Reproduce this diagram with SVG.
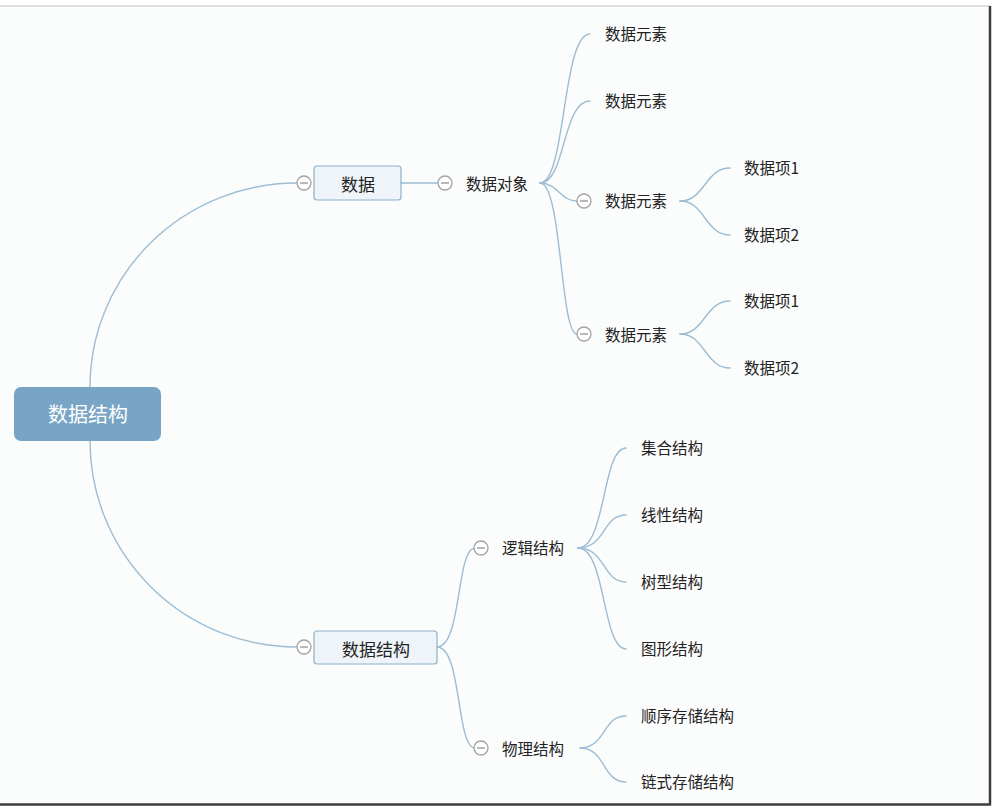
<svg xmlns="http://www.w3.org/2000/svg" width="995" height="809" viewBox="0 0 995 809">
<defs>
<style>
text{font-family:"Microsoft YaHei","Noto Sans CJK SC","Noto Sans",sans-serif;fill:#222;dominant-baseline:central}
.leaf{font-size:15.5px}
.c{fill:none;stroke:#9dbdd3;stroke-width:1.4;stroke-linecap:round}
.box{fill:#eef4f9;stroke:#8fb0c8;stroke-width:1.2}
.tog circle{fill:#fff;stroke:#a3a3a3;stroke-width:1.3}
.tog line{stroke:#8a8a8a;stroke-width:1.2}
</style>
<g id="tg" class="tog"><circle r="7"/><line x1="-4" y1="0" x2="4" y2="0"/></g>
</defs>
<rect x="0" y="0" width="995" height="809" fill="#ffffff"/>
<rect x="0" y="6" width="990" height="798" fill="#fbfcfc"/>
<line x1="0" y1="6" x2="990" y2="6" stroke="#d6d6d6" stroke-width="1.5"/>
<line x1="990" y1="6" x2="990" y2="805" stroke="#3c3c3c" stroke-width="2.5"/>
<line x1="0" y1="804.5" x2="991" y2="804.5" stroke="#3c3c3c" stroke-width="2.5"/>

<g id="connectors">
<path class="c" d="M90,387 A207,204 0 0 1 297,183"/>
<path class="c" d="M90,441 A207,206 0 0 0 297,647"/>
<path class="c" d="M401,183 L438,183"/>
<path class="c" d="M540,183 C566,183 562,34 590,34"/>
<path class="c" d="M540,183 C566,183 562,101 590,101"/>
<path class="c" d="M540,183 C558,183 560,201 577,201"/>
<path class="c" d="M540,183 C562,183 560,334 577,334"/>
<path class="c" d="M680,201 C705,201 705,168 730,168"/>
<path class="c" d="M680,201 C705,201 705,235 730,235"/>
<path class="c" d="M680,334 C705,334 705,301 730,301"/>
<path class="c" d="M680,334 C705,334 705,368 730,368"/>
<path class="c" d="M437,647 C462,647 456,548 475,548"/>
<path class="c" d="M437,647 C462,647 456,748 475,748"/>
<path class="c" d="M578,548 C606,548 602,448 626,448"/>
<path class="c" d="M578,548 C606,548 602,515 626,515"/>
<path class="c" d="M578,548 C606,548 602,582 626,582"/>
<path class="c" d="M578,548 C606,548 602,649 626,649"/>
<path class="c" d="M580,748 C606,748 602,716 626,716"/>
<path class="c" d="M580,748 C606,748 602,782 626,782"/>
</g>

<g id="root">
<rect x="14" y="387" width="147" height="54" rx="7" fill="#78a5c5"/>
<text x="88" y="413" text-anchor="middle" style="font-size:20px;fill:#fff">数据结构</text>
</g>

<g id="n-shuju">
<use href="#tg" x="304" y="183"/>
<rect class="box" x="314" y="166" width="87" height="34" rx="3"/>
<text x="358" y="183" text-anchor="middle" style="font-size:17px">数据</text>
</g>
<g id="n-duixiang">
<use href="#tg" x="445" y="183"/>
<text class="leaf" x="466" y="182.5">数据对象</text>
</g>
<g id="n-yuansu1"><text class="leaf" x="605" y="32.5">数据元素</text></g>
<g id="n-yuansu2"><text class="leaf" x="605" y="99.5">数据元素</text></g>
<g id="n-yuansu3">
<use href="#tg" x="584" y="201"/>
<text class="leaf" x="605" y="199.5">数据元素</text>
</g>
<g id="n-yuansu4">
<use href="#tg" x="584" y="334"/>
<text class="leaf" x="605" y="333.5">数据元素</text>
</g>
<g id="n-xiang1a"><text class="leaf" x="744" y="166.5">数据项1</text></g>
<g id="n-xiang2a"><text class="leaf" x="744" y="233.5">数据项2</text></g>
<g id="n-xiang1b"><text class="leaf" x="744" y="299.5">数据项1</text></g>
<g id="n-xiang2b"><text class="leaf" x="744" y="366.5">数据项2</text></g>

<g id="n-jiegou">
<use href="#tg" x="304" y="647"/>
<rect class="box" x="314" y="631" width="123" height="33" rx="3"/>
<text x="376" y="648" text-anchor="middle" style="font-size:17px">数据结构</text>
</g>
<g id="n-luoji">
<use href="#tg" x="481" y="548"/>
<text class="leaf" x="502" y="546.5">逻辑结构</text>
</g>
<g id="n-wuli">
<use href="#tg" x="481" y="748"/>
<text class="leaf" x="502" y="747.5">物理结构</text>
</g>
<g id="n-jihe"><text class="leaf" x="641" y="446.5">集合结构</text></g>
<g id="n-xianxing"><text class="leaf" x="641" y="513.5">线性结构</text></g>
<g id="n-shuxing"><text class="leaf" x="641" y="580.5">树型结构</text></g>
<g id="n-tuxing"><text class="leaf" x="641" y="647.5">图形结构</text></g>
<g id="n-shunxu"><text class="leaf" x="641" y="714.5">顺序存储结构</text></g>
<g id="n-lianshi"><text class="leaf" x="641" y="780.5">链式存储结构</text></g>
</svg>
